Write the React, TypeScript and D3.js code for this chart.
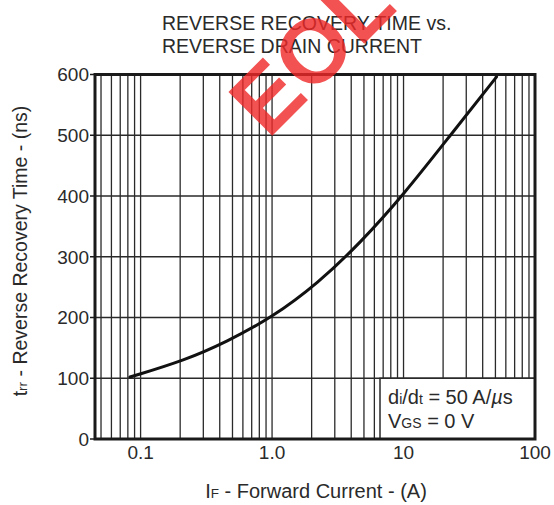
import React from "react";
import * as d3 from "d3";

const W = 554;
const H = 505;

// Curve: forward current (A) vs reverse recovery time (ns)
const currentA = [0.083, 0.22, 0.45, 1.0, 2.25, 4.65, 10, 22.7, 51];
const trrNs = [102, 130, 160, 200, 257, 322, 402, 500, 596];

const xTickValues = [0.1, 1, 10, 100];
const xTickLabels = ["0.1", "1.0", "10", "100"];
const yTickValues = [0, 100, 200, 300, 400, 500, 600];
const yGridValues = [100, 200, 300, 400, 500];
const xMinorValues = [
  0.05, 0.06, 0.07, 0.08, 0.09,
  0.1, 0.2, 0.3, 0.4, 0.5, 0.6, 0.7, 0.8, 0.9,
  1, 2, 3, 4, 5, 6, 7, 8, 9,
  10, 20, 30, 40, 50, 60, 70, 80, 90,
];

const titleLines = ["REVERSE RECOVERY TIME vs.", "REVERSE DRAIN CURRENT"];

const FONT = "'Liberation Sans', Arial, Helvetica, sans-serif";
const INK = "#2a2a2a";

export default function App() {
  const x = d3.scaleLog().domain([0.045, 100]).range([95, 535]);
  const y = d3.scaleLinear().domain([0, 600]).range([439, 74.5]);

  const pts: [number, number][] = currentA.map((c, i) => [x(c), y(trrNs[i])]);
  const line = d3.line().curve(d3.curveBasis)(pts) || "";

  const [x0, x1] = x.range();
  const [yb, yt] = y.range();

  return (
    <svg
      width={W}
      height={H}
      style={{ position: "absolute", left: 0, top: 0, background: "#fff" }}
      fontFamily={FONT}
    >
      <rect x={0} y={0} width={W} height={H} fill="#fff" />
      {/* title */}
      {titleLines.map((t, i) => (
        <text key={t} x={162} y={30 + i * 23} fontSize={19.5} fill={INK}>
          {t}
        </text>
      ))}

      {/* vertical grid */}
      {xMinorValues.map((v) => (
        <line
          key={"vx" + v}
          x1={x(v)}
          x2={x(v)}
          y1={yt}
          y2={yb}
          stroke="#2a2a2a"
          strokeWidth={1.3}
        />
      ))}
      {/* horizontal grid */}
      {yGridValues.map((v) => (
        <line
          key={"hy" + v}
          x1={x0}
          x2={x1}
          y1={y(v)}
          y2={y(v)}
          stroke="#2a2a2a"
          strokeWidth={1.3}
        />
      ))}

      {/* curve */}
      <path d={line} fill="none" stroke="#111" strokeWidth={3} strokeLinecap="round" />

      {/* legend box */}
      <rect
        x={380}
        y={y(100)}
        width={x1 - 380}
        height={yb - y(100)}
        fill="#fff"
        stroke="#2a2a2a"
        strokeWidth={1.5}
      />
      <text x={388} y={404} fontSize={20} fill={INK}>
        d<tspan fontSize={14}>i</tspan>/d<tspan fontSize={14}>t</tspan> = 50 A/
        <tspan fontStyle="italic">µ</tspan>s
      </text>
      <text x={388} y={428} fontSize={20} fill={INK}>
        V<tspan fontSize={14}>GS</tspan> = 0 V
      </text>

      {/* frame */}
      <rect
        x={x0}
        y={yt}
        width={x1 - x0}
        height={yb - yt}
        fill="none"
        stroke="#1a1a1a"
        strokeWidth={3}
      />

      {/* y ticks */}
      {yTickValues.map((v) => (
        <g key={"yt" + v}>
          <line x1={x0 - 5} x2={x0} y1={y(v)} y2={y(v)} stroke="#1a1a1a" strokeWidth={1.5} />
          <text
            x={89}
            y={y(v)}
            dy="0.36em"
            textAnchor="end"
            fontSize={19}
            fill={INK}
          >
            {v}
          </text>
        </g>
      ))}

      {/* x ticks */}
      {xTickValues.map((v, i) => (
        <text
          key={"xt" + v}
          x={x(v)}
          y={459}
          textAnchor="middle"
          fontSize={19}
          fill={INK}
        >
          {xTickLabels[i]}
        </text>
      ))}

      {/* axis titles */}
      <text x={316} y={498} textAnchor="middle" fontSize={20} fill={INK}>
        I<tspan fontSize={13.5}>F</tspan> - Forward Current - (A)
      </text>
      <text
        transform={`translate(27,251) rotate(-90)`}
        textAnchor="middle"
        fontSize={19.5}
        fill={INK}
      >
        t<tspan fontSize={13.5}>rr</tspan> - Reverse Recovery Time - (ns)
      </text>

      {/* watermark */}
      <text
        transform="translate(268,140) rotate(-45)"
        fontSize={90}
        fontWeight="bold"
        fill="#f02828"
        opacity={0.8}
      >
        EOL
      </text>
    </svg>
  );
}
